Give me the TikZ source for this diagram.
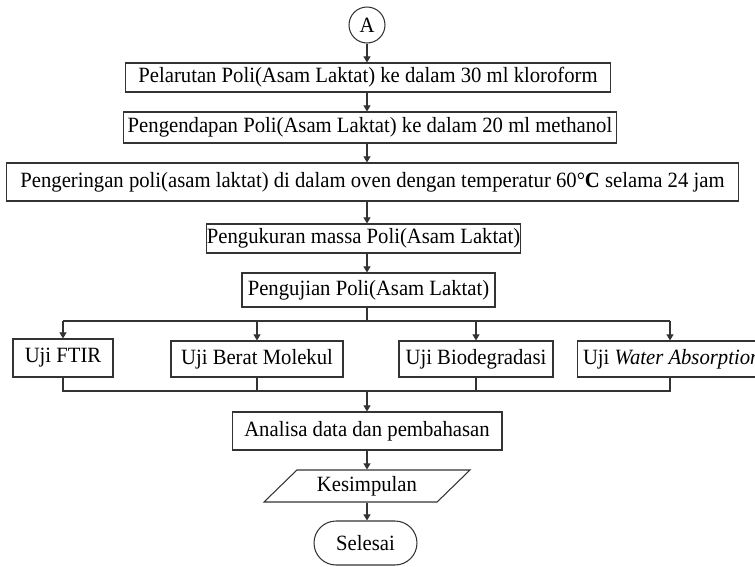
\documentclass[tikz,border=0pt]{standalone}
\usepackage{fontspec}
\setmainfont[FakeStretch=0.95]{Liberation Serif}
\usetikzlibrary{shapes.geometric,arrows.meta}

\begin{document}
\begin{tikzpicture}[x=0.02cm,y=-0.02cm,line width=0.6pt,draw=black!80,
                    every node/.style={font=\fontsize{12.4pt}{14pt}\selectfont,inner sep=0pt},
                    box/.style={draw,rectangle},
                    arr/.style={-{Triangle[width=4pt,length=3.5pt]}}]
                    \useasboundingbox (0,0) rectangle (755,566);
                    \node[draw,circle,minimum size=0.72cm] (a) at (367,25) {A};
                    \node[box,minimum width=9.72cm,minimum height=0.58cm] (b1) at (368,77.5) {Pelarutan Poli(Asam Laktat) ke dalam 30 ml kloroform};
                    \node[box,minimum width=9.88cm,minimum height=0.62cm] (b2) at (370,127.5) {Pengendapan Poli(Asam Laktat) ke dalam 20 ml methanol};
                    \node[box,minimum width=14.66cm,minimum height=0.76cm] (b3) at (372.5,182) {Pengeringan poli(asam laktat) di dalam oven dengan temperatur 60°\textbf{C} selama 24 jam};
                    \node[box,minimum width=6.26cm,minimum height=0.58cm] (b4) at (363.5,238.5) {Pengukuran massa Poli(Asam Laktat)};
                    \node[box,minimum width=5.06cm,minimum height=0.68cm] (b5) at (368.5,290) {Pengujian Poli(Asam Laktat)};
                    \node[box,minimum width=2cm,minimum height=0.76cm] (u1) at (63,358) {Uji FTIR};
                    \node[box,minimum width=3.44cm,minimum height=0.72cm] (u2) at (257,359) {Uji Berat Molekul};
                    \node[box,minimum width=3.08cm,minimum height=0.72cm] (u3) at (476,359) {Uji Biodegradasi};
                    \node[box,inner xsep=0.11cm,minimum height=0.72cm,anchor=west] (u4) at (577,359) {Uji \textit{Water Absorption}};
                    \node[box,minimum width=5.4cm,minimum height=0.76cm] (ana) at (367,431) {Analisa data dan pembahasan};
                    \node[draw,trapezium,trapezium left angle=31,trapezium right angle=149,trapezium stretches body,
                          minimum width=4.12cm,minimum height=0.64cm] (kes) at (367,486) {Kesimpulan};
                    \node[draw,rectangle,rounded corners=0.44cm,minimum width=2.06cm,minimum height=0.88cm] (end) at (365.5,543) {Selesai};
                    \coordinate (br) at (367,321);
                    \coordinate (wa) at (670,321);
                    \coordinate (jn) at (367,391);
                    \draw[arr] (a.south) -- (a.south |- b1.north);
                    \draw[arr] (b1.south -| a) -- (b2.north -| a);
                    \draw[arr] (b2.south -| a) -- (b3.north -| a);
                    \draw[arr] (b3.south -| a) -- (b4.north -| a);
                    \draw[arr] (b4.south -| a) -- (b5.north -| a);
                    \draw (b5.south -| br) -- (br);
                    \draw (br -| u1) -- (wa);
                    \draw[arr] (br -| u1) -- (u1.north);
                    \draw[arr] (br -| u2) -- (u2.north);
                    \draw[arr] (br -| u3) -- (u3.north);
                    \draw[arr] (wa) -- (wa |- u4.north);
                    \draw (u1.south) -- (u1.south |- jn) -- (jn -| wa) -- (wa |- u4.south);
                    \draw (u2.south) -- (u2.south |- jn);
                    \draw (u3.south) -- (u3.south |- jn);
                    \draw[arr] (jn) -- (jn |- ana.north);
                    \draw[arr] (ana.south) -- (ana.south |- kes.north);
                    \draw[arr] (kes.south -| ana) -- (end.north -| ana);
                \end{tikzpicture}
\end{document}
